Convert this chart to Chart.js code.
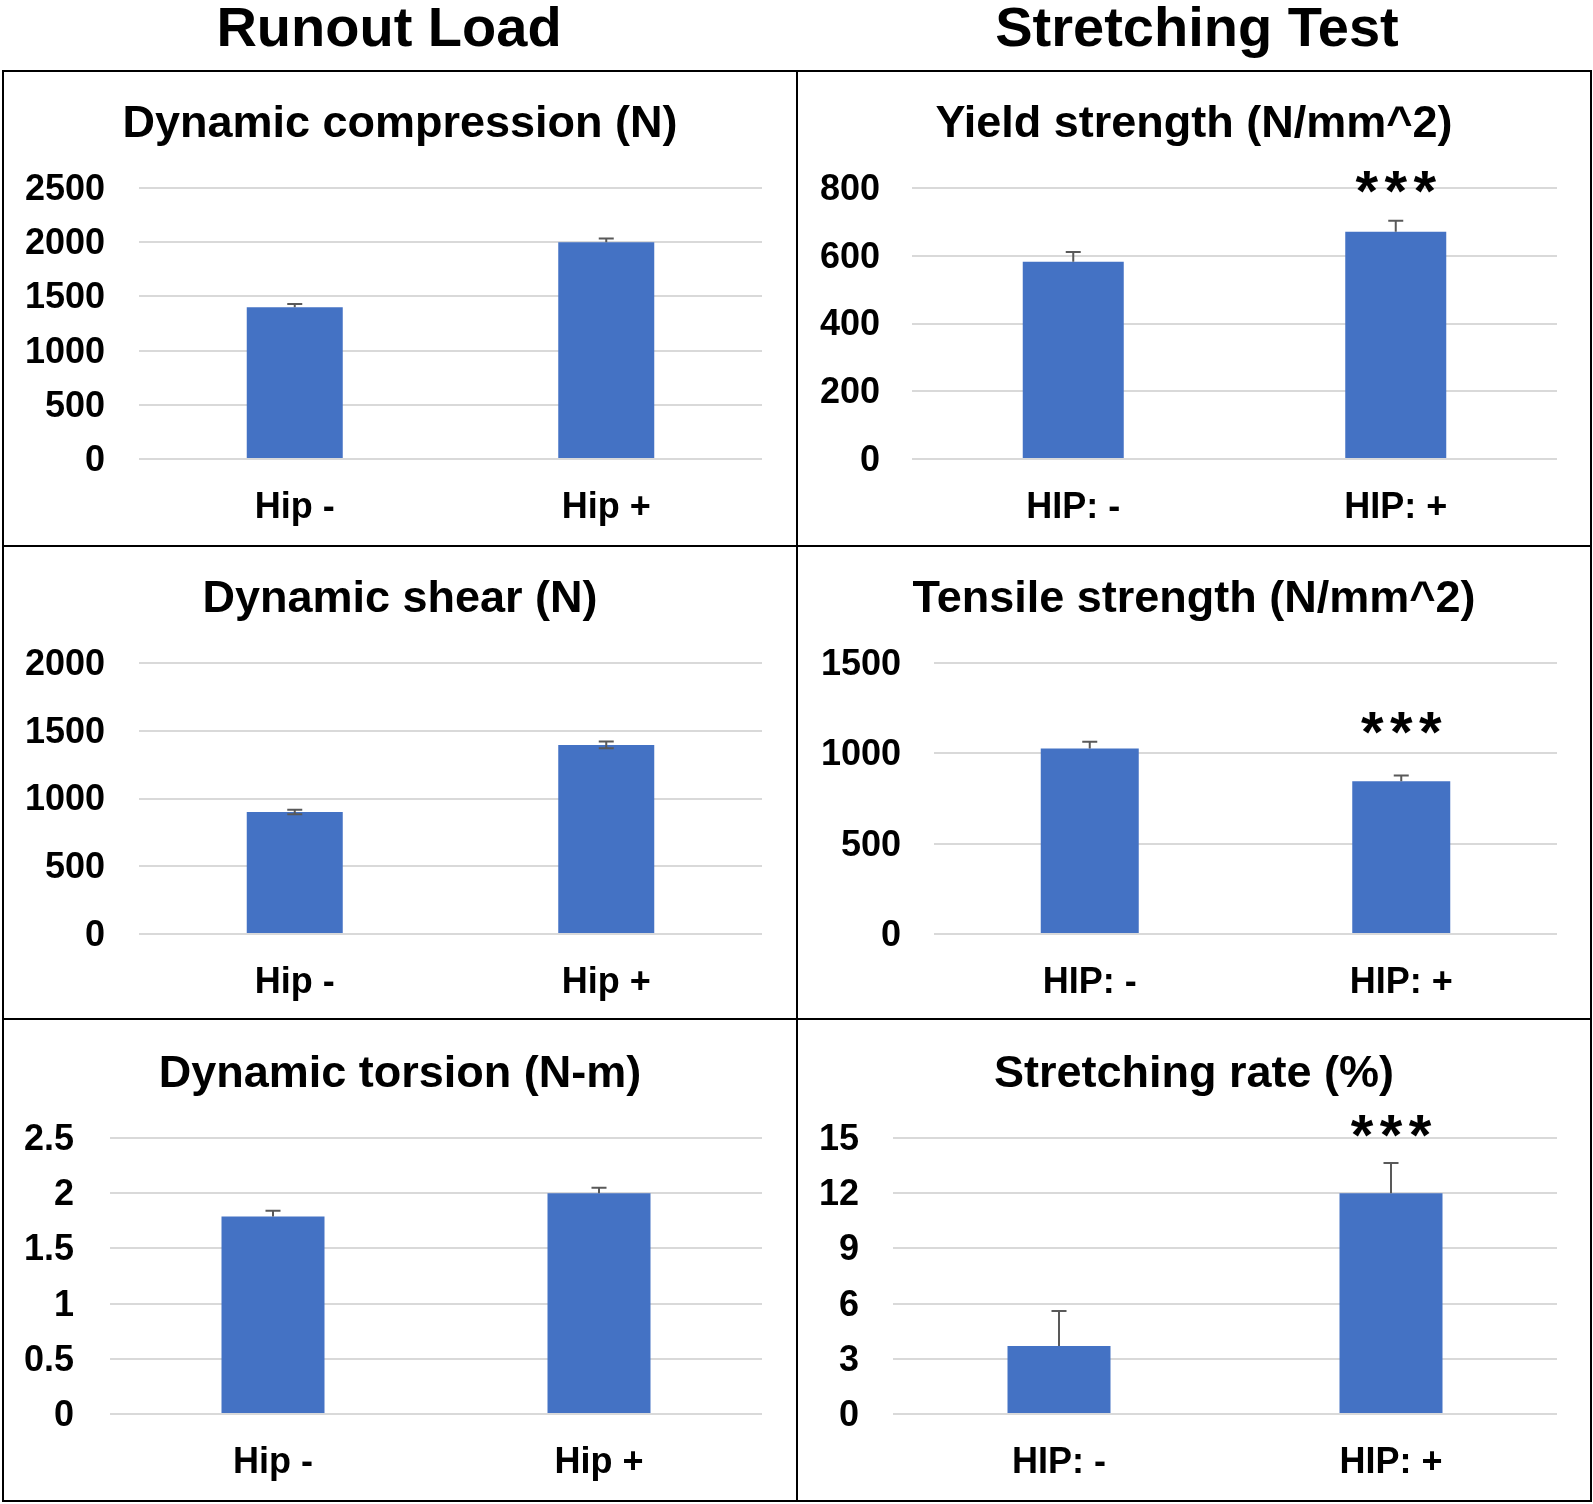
<!DOCTYPE html>
<html><head><meta charset="utf-8">
<script src="https://cdn.jsdelivr.net/npm/chart.js@4.4.1/dist/chart.umd.min.js"></script>
<style>
html,body{margin:0;padding:0;background:#fff;}
#root{position:relative;width:1593px;height:1504px;overflow:hidden;font-family:"Liberation Sans",Arial,sans-serif;}
.hdr{position:absolute;top:-6px;width:700px;font-weight:bold;font-size:56px;color:#000;text-align:center;white-space:nowrap;}
.ln{position:absolute;background:#000;z-index:5;}
canvas{position:absolute;}
</style></head>
<body>
<div id="root">
  <div class="hdr" style="left:39px">Runout Load</div>
  <div class="hdr" style="left:847px">Stretching Test</div>
  <div class="ln" style="left:2px;top:70px;width:1590px;height:2px"></div>
  <div class="ln" style="left:2px;top:1500px;width:1590px;height:2px"></div>
  <div class="ln" style="left:2px;top:70px;width:2px;height:1432px"></div>
  <div class="ln" style="left:1590px;top:70px;width:2px;height:1432px"></div>
  <div class="ln" style="left:796px;top:70px;width:2px;height:1432px"></div>
  <div class="ln" style="left:2px;top:545px;width:1590px;height:2px"></div>
  <div class="ln" style="left:2px;top:1018px;width:1590px;height:2px"></div>
  <canvas id="c1"></canvas><canvas id="c2"></canvas>
  <canvas id="c3"></canvas><canvas id="c4"></canvas>
  <canvas id="c5"></canvas><canvas id="c6"></canvas>
</div>
<script>
// ---------- DATA ----------
const runoutCategories = ['Hip -', 'Hip +'];
const stretchCategories = ['HIP: -', 'HIP: +'];

const compressionTitle = 'Dynamic compression (N)';
const compressionValues = [1400, 2000];
const compressionErrors = [30, 35];
const compressionTicks = [0, 500, 1000, 1500, 2000, 2500];

const yieldTitle = 'Yield strength (N/mm^2)';
const yieldValues = [582, 671];
const yieldErrors = [29, 32];
const yieldTicks = [0, 200, 400, 600, 800];

const shearTitle = 'Dynamic shear (N)';
const shearValues = [900, 1395];
const shearErrors = [17, 25];
const shearTicks = [0, 500, 1000, 1500, 2000];

const tensileTitle = 'Tensile strength (N/mm^2)';
const tensileValues = [1027, 846];
const tensileErrors = [37, 31];
const tensileTicks = [0, 500, 1000, 1500];

const torsionTitle = 'Dynamic torsion (N-m)';
const torsionValues = [1.79, 2.0];
const torsionErrors = [0.05, 0.05];
const torsionTicks = [0, 0.5, 1, 1.5, 2, 2.5];

const rateTitle = 'Stretching rate (%)';
const rateValues = [3.7, 12.0];
const rateErrors = [1.9, 1.64];
const rateTicks = [0, 3, 6, 9, 12, 15];

const significanceMark = '***';

// ---------- PLUGINS ----------
const errorBarPlugin = {
  id: 'errorBars',
  afterDatasetsDraw(chart, args, opts) {
    const ctx = chart.ctx, y = chart.scales.y;
    const ds = chart.data.datasets[0];
    const meta = chart.getDatasetMeta(0);
    ctx.save();
    ctx.strokeStyle = opts.color || '#595959';
    ctx.lineWidth = opts.width || 2;
    meta.data.forEach((bar, i) => {
      const v = ds.data[i], e = ds.errors[i];
      const yTop = y.getPixelForValue(v + e);
      const yBot = opts.both ? y.getPixelForValue(v - e) : y.getPixelForValue(v);
      const c = opts.cap || 7.5;
      ctx.beginPath();
      ctx.moveTo(bar.x, yTop); ctx.lineTo(bar.x, yBot);
      ctx.moveTo(bar.x - c, yTop); ctx.lineTo(bar.x + c, yTop);
      if (opts.both) { ctx.moveTo(bar.x - c, yBot); ctx.lineTo(bar.x + c, yBot); }
      ctx.stroke();
    });
    ctx.restore();
  }
};

const sigPlugin = {
  id: 'sig',
  afterDatasetsDraw(chart, args, opts) {
    if (!opts || opts.index === undefined) return;
    const ctx = chart.ctx, y = chart.scales.y;
    const bar = chart.getDatasetMeta(0).data[opts.index];
    const cy = y.getPixelForValue(opts.value);
    ctx.save();
    ctx.fillStyle = '#000';
    ctx.font = 'bold 58px "Liberation Sans", Arial, sans-serif';
    ctx.textAlign = 'center';
    ctx.textBaseline = 'alphabetic';
    const m = ctx.measureText('*');
    const off = (m.actualBoundingBoxAscent - m.actualBoundingBoxDescent) / 2;
    const marks = significanceMark.split('');
    const gap = 29;
    marks.forEach((ch, k) => {
      const x = bar.x + (k - (marks.length - 1) / 2) * gap;
      ctx.fillText(ch, x, cy + off);
    });
    ctx.restore();
  }
};

// ---------- LAYOUT ----------
const FONT = '"Liberation Sans", Arial, sans-serif';
function makeChart(id, cell, area, titleCY, labelRight, cfg) {
  const cv = document.getElementById(id);
  cv.width = cell.w; cv.height = cell.h;
  cv.style.left = cell.x + 'px'; cv.style.top = cell.y + 'px';
  cv.style.width = cell.w + 'px'; cv.style.height = cell.h + 'px';
  const rightW = cell.x + cell.w - area.right;
  const yW = area.left - cell.x;
  const lh = 54;
  const tTop = titleCY - cell.y - lh / 2;
  const tBot = area.top - titleCY - lh / 2;
  const xH = cell.y + cell.h - area.bottom;
  const catW = (area.right - area.left) / cfg.labels.length;
  const ticks = cfg.ticks;
  new Chart(cv, {
    type: 'bar',
    data: {
      labels: cfg.labels,
      datasets: [{
        data: cfg.values,
        errors: cfg.errors,
        backgroundColor: '#4472C4',
        borderWidth: 0,
        categoryPercentage: 1,
        barPercentage: cfg.barW / catW,
        yAxisID: 'y'
      }]
    },
    options: {
      responsive: false,
      animation: false,
      devicePixelRatio: 1,
      layout: { padding: 0 },
      plugins: {
        legend: { display: false },
        tooltip: { enabled: false },
        title: {
          display: true, text: cfg.title, color: '#000',
          font: { family: FONT, size: 45, weight: 'bold', lineHeight: 1.2 },
          padding: { top: tTop, bottom: tBot }
        },
        errorBars: { both: !!cfg.both, color: '#595959', width: 2, cap: 7.5 },
        sig: cfg.sig || {}
      },
      scales: {
        x: {
          grid: { display: false, drawTicks: false },
          border: { display: false },
          ticks: { color: '#000', font: { family: FONT, size: 36, weight: 'bold' }, padding: 27, maxRotation: 0 },
          afterFit(s) { s.height = xH; }
        },
        y: {
          position: 'left',
          min: ticks[0], max: ticks[ticks.length - 1],
          afterBuildTicks(s) { s.ticks = ticks.map(v => ({ value: v })); },
          grid: { color: '#d9d9d9', lineWidth: 2, drawTicks: false },
          border: { display: false },
          ticks: {
            color: '#000', font: { family: FONT, size: 36, weight: 'bold' },
            padding: area.left - labelRight,
            labelOffset: 2,
            callback: v => String(v)
          },
          afterFit(s) { s.width = yW; }
        },
        yRight: {
          type: 'linear',
          position: 'right',
          display: true,
          grid: { display: false, drawTicks: false },
          border: { display: false },
          ticks: { display: false },
          afterFit(s) { s.width = rightW; }
        }
      }
    },
    plugins: [errorBarPlugin, sigPlugin]
  });
}

const L = { x: 4, w: 792 }, R = { x: 798, w: 792 };
const T = { y: 72, h: 473 }, M = { y: 547, h: 471 }, B = { y: 1020, h: 480 };

makeChart('c1', { x: L.x, w: L.w, y: T.y, h: T.h }, { left: 139, right: 762, top: 188, bottom: 459 }, 125, 105,
  { title: compressionTitle, labels: runoutCategories, values: compressionValues, errors: compressionErrors, ticks: compressionTicks, barW: 96 });
makeChart('c2', { x: R.x, w: R.w, y: T.y, h: T.h }, { left: 912, right: 1557, top: 188, bottom: 459 }, 125, 880,
  { title: yieldTitle, labels: stretchCategories, values: yieldValues, errors: yieldErrors, ticks: yieldTicks, barW: 101,
    sig: { index: 1, value: 818 } });
makeChart('c3', { x: L.x, w: L.w, y: M.y, h: M.h }, { left: 139, right: 762, top: 663, bottom: 934 }, 600, 105,
  { title: shearTitle, labels: runoutCategories, values: shearValues, errors: shearErrors, ticks: shearTicks, barW: 96, both: true });
makeChart('c4', { x: R.x, w: R.w, y: M.y, h: M.h }, { left: 934, right: 1557, top: 663, bottom: 934 }, 600, 901,
  { title: tensileTitle, labels: stretchCategories, values: tensileValues, errors: tensileErrors, ticks: tensileTicks, barW: 98,
    sig: { index: 1, value: 1168 } });
makeChart('c5', { x: L.x, w: L.w, y: B.y, h: B.h }, { left: 110, right: 762, top: 1138, bottom: 1414 }, 1075, 74,
  { title: torsionTitle, labels: runoutCategories, values: torsionValues, errors: torsionErrors, ticks: torsionTicks, barW: 103 });
makeChart('c6', { x: R.x, w: R.w, y: B.y, h: B.h }, { left: 893, right: 1557, top: 1138, bottom: 1414 }, 1075, 859,
  { title: rateTitle, labels: stretchCategories, values: rateValues, errors: rateErrors, ticks: rateTicks, barW: 103,
    sig: { index: 1, value: 15.65 } });
</script>
</body></html>
